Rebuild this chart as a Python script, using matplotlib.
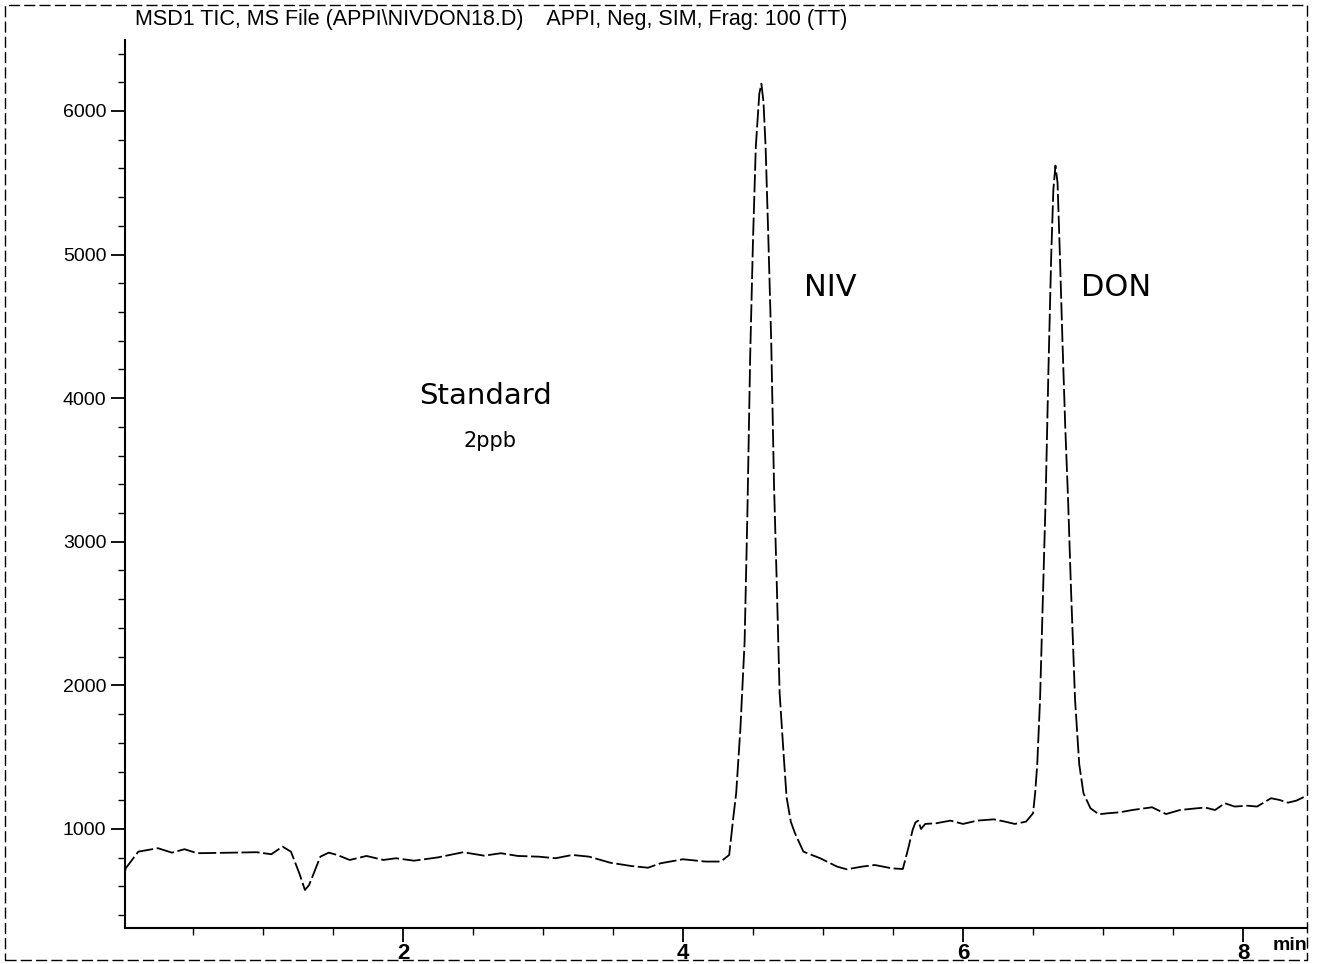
import matplotlib.pyplot as plt
from matplotlib.patches import Rectangle
from matplotlib.ticker import MultipleLocator

# retention time (min) and TIC abundance
time_min = [
    0.015, 0.02, 0.11, 0.25, 0.35, 0.44, 0.53, 0.78, 0.955, 1.06, 1.14, 1.20,
    1.26, 1.30, 1.33, 1.41, 1.47, 1.53, 1.62, 1.74, 1.86, 1.95, 2.08, 2.25,
    2.43, 2.58, 2.70, 2.82, 2.97, 3.09, 3.21, 3.33, 3.48, 3.63, 3.75, 3.84,
    4.00, 4.16, 4.27, 4.33,
    # NIV peak
    4.36, 4.38, 4.41, 4.44, 4.46, 4.48, 4.50, 4.52, 4.545, 4.56, 4.575, 4.59,
    4.61, 4.63, 4.65, 4.67, 4.69, 4.72, 4.74, 4.77, 4.80, 4.86,
    4.98, 5.10, 5.17, 5.28, 5.37, 5.49, 5.57, 5.61, 5.64, 5.66, 5.68, 5.70,
    5.73, 5.81, 5.91, 6.00, 6.10, 6.22, 6.30, 6.37, 6.45, 6.50,
    # DON peak
    6.515, 6.53, 6.55, 6.57, 6.59, 6.61, 6.63, 6.645, 6.66, 6.675, 6.69, 6.71,
    6.73, 6.75, 6.77, 6.80, 6.83, 6.86, 6.91, 6.97,
    7.03, 7.12, 7.21, 7.35, 7.39, 7.45, 7.55, 7.67, 7.73, 7.80, 7.87, 7.94,
    8.03, 8.10, 8.20, 8.26, 8.32, 8.38, 8.44,
]
abundance = [
    700, 726, 842, 866, 835, 859, 831, 835, 838, 824, 877, 842,
    691, 575, 610, 807, 835, 819, 784, 812, 784, 796, 779, 802,
    838, 814, 831, 812, 807, 796, 819, 807, 765, 742, 730, 761,
    789, 773, 773, 819,
    1086, 1250, 1700, 2300, 3200, 4300, 5100, 5750, 6120, 6190, 6060, 5750,
    5100, 4400, 3400, 2700, 1950, 1500, 1220, 1050, 970, 842,
    796, 738, 719, 738, 749, 726, 721, 870, 993, 1045, 1058, 1000,
    1035, 1040, 1058, 1035, 1058, 1067, 1051, 1035, 1051, 1109,
    1250, 1450, 1900, 2600, 3300, 4200, 5000, 5450, 5620, 5500, 5050, 4400,
    3800, 3300, 2700, 1900, 1450, 1249, 1144, 1102,
    1109, 1116, 1132, 1151, 1132, 1104, 1132, 1144, 1149, 1132, 1179, 1156,
    1162, 1156, 1214, 1202, 1183, 1197, 1225,
]

x_ticks = [2, 4, 6, 8]
y_ticks = [1000, 2000, 3000, 4000, 5000, 6000]
title = "MSD1 TIC, MS File (APPI\\NIVDON18.D)    APPI, Neg, SIM, Frag: 100 (TT)"

fig = plt.figure(figsize=(13.2, 9.64), dpi=100)
ax = fig.add_axes([0.0947, 0.0373, 0.8955, 0.9212])

ax.plot(time_min, abundance, color="black", lw=1.3, linestyle=(0, (10, 2)))

ax.set_xlim(0.015, 8.457)
ax.set_ylim(310, 6494)
ax.spines["top"].set_visible(False)
ax.spines["right"].set_visible(False)
ax.spines["left"].set_linewidth(1.5)
ax.spines["bottom"].set_linewidth(1.5)

ax.set_xticks(x_ticks)
ax.set_yticks(y_ticks)
ax.xaxis.set_minor_locator(MultipleLocator(0.5))
ax.yaxis.set_minor_locator(MultipleLocator(200))
ax.tick_params(axis="both", which="major", length=10, width=1.3, direction="out")
ax.tick_params(axis="both", which="minor", length=5, width=1.0, direction="out")
ax.tick_params(axis="x", pad=1)
for lab in ax.get_xticklabels():
    lab.set_fontfamily("Liberation Sans")
    lab.set_fontweight("bold")
    lab.set_fontsize(16)
for lab in ax.get_yticklabels():
    lab.set_fontfamily("Liberation Sans")
    lab.set_fontsize(14)

# annotations
ax.text(5.05, 4774, "NIV", fontsize=22, ha="center", va="center")
ax.text(7.09, 4774, "DON", fontsize=22, ha="center", va="center")
ax.text(2.59, 4015, "Standard", fontsize=21, ha="center", va="center")
ax.text(2.62, 3701, "2ppb", fontsize=15, ha="center", va="center")

fig.text(1290 / 1320, 1 - 945 / 964, "min", fontsize=14, fontweight="bold",
         family="Liberation Sans", ha="center", va="center")
fig.text(135 / 1320, 1 - 20 / 964, title, fontsize=15.5, family="Liberation Sans",
         ha="left", va="center")

# scanned page frame
fig.patches.append(Rectangle((5 / 1320, 1 - 960 / 964), 1302 / 1320, 955 / 964,
                             transform=fig.transFigure, fill=False, color="black",
                             lw=1.0, linestyle=(0, (8, 3))))

fig.savefig("out.png", dpi=100)
